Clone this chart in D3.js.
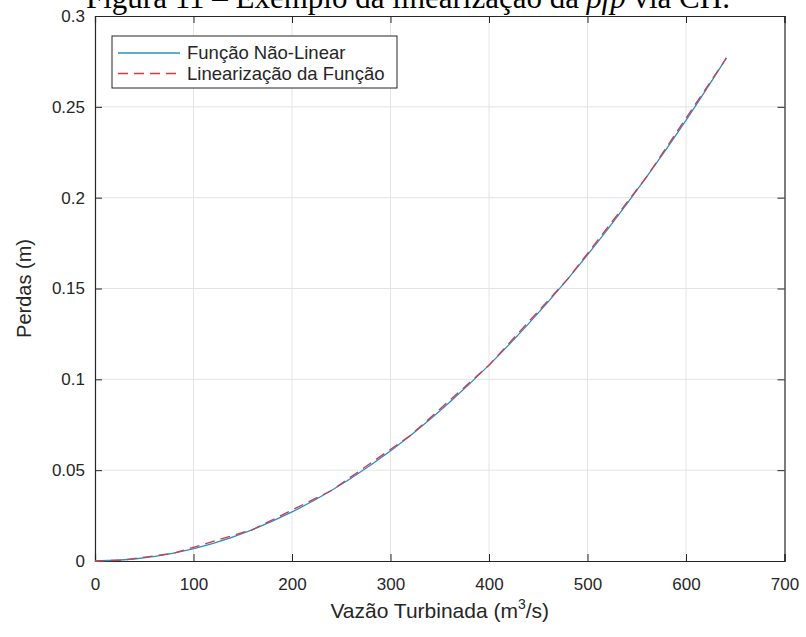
<!DOCTYPE html>
<html>
<head>
<meta charset="utf-8">
<script src="https://cdn.jsdelivr.net/npm/d3@7"></script>
<style>
  html, body { margin: 0; padding: 0; background: #fff; }
  svg { display: block; }
</style>
</head>
<body>
<svg id="chart" width="806" height="637"></svg>
<script>
// ---- data ----
const xTicks = [0, 100, 200, 300, 400, 500, 600, 700];
const yTicks = [0, 0.05, 0.1, 0.15, 0.2, 0.25, 0.3];
const yTickLabels = ["0", "0.05", "0.1", "0.15", "0.2", "0.25", "0.3"];

// non-linear function (flow m3/s -> losses m)
const nlFlow   = [0, 40, 80, 120, 160, 200, 240, 280, 320, 360, 400, 440, 480, 520, 560, 600, 641];
const nlLosses = [0, 0.0011, 0.0043, 0.0097, 0.0173, 0.0270, 0.0388, 0.0528, 0.0690, 0.0874, 0.1078, 0.1305, 0.1553, 0.1823, 0.2114, 0.2426, 0.2769];

// piecewise-linear approximation
const linFlow   = [0, 30, 80, 160, 240, 320, 400, 480, 560, 641];
const linLosses = [0, 0.0006, 0.0043, 0.0173, 0.0388, 0.0690, 0.1078, 0.1553, 0.2114, 0.2769];

const seriesNames = ["Função Não-Linear", "Linearização da Função"];
const titleParts = ["Figura 11 – Exemplo da linearização da ", "ρfp", " via CH."];
const xLabel = "Vazão Turbinada (m";
const yLabel = "Perdas (m)";

// ---- drawing ----
const svg = d3.select("#chart");
const L = 95, R = 784.5, T = 16, B = 561;
const ink = "#262626";
const blue = "#2a8fc6", red = "#d23a48";
const sans = "'Liberation Sans', Arial, sans-serif";

svg.append("rect").attr("width", 806).attr("height", 637).attr("fill", "#fff");

const x = d3.scaleLinear().domain([0, 700]).range([L, R]);
const y = d3.scaleLinear().domain([0, 0.3]).range([B, T]);

// grid
svg.append("g").selectAll("line").data(xTicks.slice(1, -1)).join("line")
  .attr("x1", d => x(d)).attr("x2", d => x(d)).attr("y1", T).attr("y2", B)
  .attr("stroke", "#e4e4e4").attr("stroke-width", 1);
svg.append("g").selectAll("line").data(yTicks.slice(1, -1)).join("line")
  .attr("y1", d => y(d)).attr("y2", d => y(d)).attr("x1", L).attr("x2", R)
  .attr("stroke", "#e4e4e4").attr("stroke-width", 1);

// axes (inward ticks on all sides)
const tl = 7;
const gx = svg.append("g").attr("transform", `translate(0,${B})`)
  .call(d3.axisBottom(x).tickValues(xTicks).tickSize(-tl).tickPadding(17).tickFormat(d3.format("d")));
const gxt = svg.append("g").attr("transform", `translate(0,${T})`)
  .call(d3.axisTop(x).tickValues(xTicks).tickSize(-tl).tickFormat(""));
const gy = svg.append("g").attr("transform", `translate(${L},0)`)
  .call(d3.axisLeft(y).tickValues(yTicks).tickSize(-tl).tickPadding(10).tickFormat((d, i) => yTickLabels[i]));
const gyr = svg.append("g").attr("transform", `translate(${R},0)`)
  .call(d3.axisRight(y).tickValues(yTicks).tickSize(-tl).tickFormat(""));

[gx, gxt, gy, gyr].forEach(g => {
  g.select(".domain").attr("stroke", ink).attr("stroke-width", 1.2);
  g.selectAll(".tick line").attr("stroke", ink);
  g.selectAll("text").attr("fill", ink).attr("font-family", sans).attr("font-size", 17);
});

// lines
const nlData = nlFlow.map((f, i) => [f, nlLosses[i]]);
const linData = linFlow.map((f, i) => [f, linLosses[i]]);
svg.append("path").datum(nlData)
  .attr("d", d3.line().x(d => x(d[0])).y(d => y(d[1])).curve(d3.curveMonotoneX))
  .attr("fill", "none").attr("stroke", blue).attr("stroke-width", 1.3);
svg.append("path").datum(linData)
  .attr("d", d3.line().x(d => x(d[0])).y(d => y(d[1])))
  .attr("fill", "none").attr("stroke", red).attr("stroke-width", 1.3)
  .attr("stroke-dasharray", "10,6");

// legend
const lg = svg.append("g");
lg.append("rect").attr("x", 112).attr("y", 36).attr("width", 285).attr("height", 52)
  .attr("fill", "#fff").attr("stroke", ink).attr("stroke-width", 1);
const rows = [53, 73.5];
lg.append("line").attr("x1", 118).attr("x2", 180).attr("y1", rows[0]).attr("y2", rows[0])
  .attr("stroke", blue).attr("stroke-width", 1.3);
lg.append("line").attr("x1", 118).attr("x2", 180).attr("y1", rows[1]).attr("y2", rows[1])
  .attr("stroke", red).attr("stroke-width", 1.3).attr("stroke-dasharray", "10,6");
seriesNames.forEach((n, i) => {
  lg.append("text").attr("x", 187).attr("y", rows[i]).attr("dy", "0.35em")
    .attr("font-family", sans).attr("font-size", 18.5).attr("fill", ink).text(n);
});

// axis labels
const xl = svg.append("text").attr("x", (L + R) / 2).attr("y", 618).attr("text-anchor", "middle")
  .attr("font-family", sans).attr("font-size", 21).attr("fill", ink);
xl.append("tspan").text(xLabel);
xl.append("tspan").attr("dy", -9).attr("font-size", 14).text("3");
xl.append("tspan").attr("dy", 9).text("/s)");

svg.append("text").attr("transform", `translate(31,${(T + B) / 2}) rotate(-90)`)
  .attr("text-anchor", "middle").attr("font-family", sans).attr("font-size", 20)
  .attr("fill", ink).text(yLabel);

// title (cut off at the top edge, as in the reference)
const tt = svg.append("text").attr("x", 86).attr("y", 8)
  .attr("font-family", "'Liberation Serif', 'Times New Roman', serif").attr("font-size", 31).attr("fill", "#000");
tt.append("tspan").text(titleParts[0]);
tt.append("tspan").attr("font-style", "italic").text(titleParts[1]);
tt.append("tspan").text(titleParts[2]);
</script>
</body>
</html>
